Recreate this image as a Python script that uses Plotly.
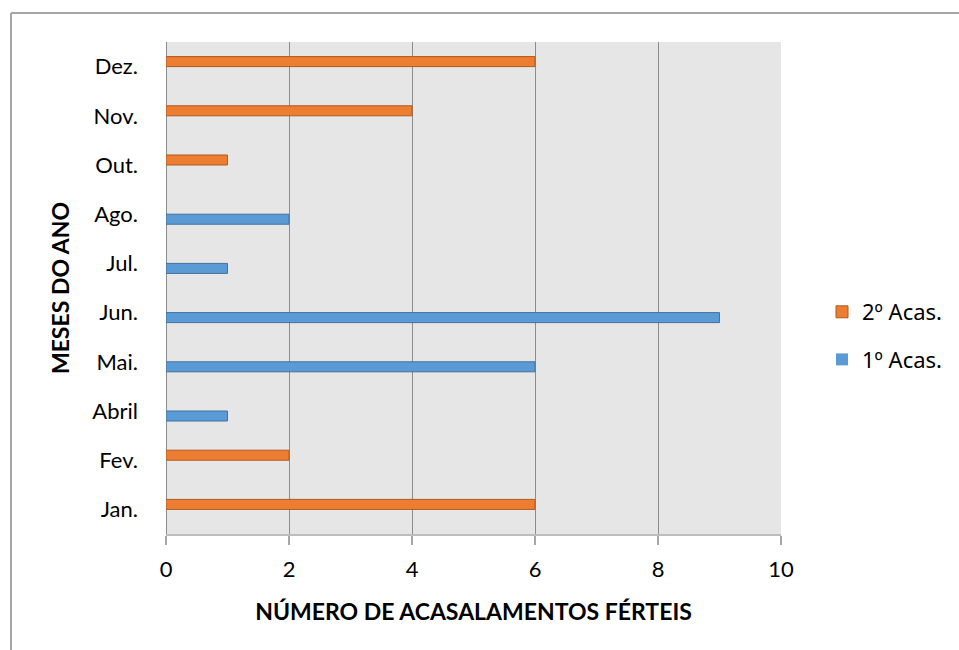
import plotly.graph_objects as go

# Months on the category axis, bottom to top
months = ["Jan.", "Fev.", "Abril", "Mai.", "Jun.", "Jul.", "Ago.", "Out.", "Nov.", "Dez."]
# Fertile matings per month, first and second mating
primeiro_acas = [0, 0, 1, 6, 9, 1, 2, 0, 0, 0]
segundo_acas = [6, 2, 0, 0, 0, 0, 0, 1, 4, 6]
x_ticks = [0, 2, 4, 6, 8, 10]

FONT = "Lato"
W, H = 959, 650
L, R, T, B = 166, 178, 42, 116
pw, ph = W - L - R, H - T - B


def px_x(p):
    return (p - L) / pw


def px_y(p):
    return 1 - (p - T) / ph


def outline(values):
    # no outline on empty slots so zero-length bars stay invisible
    return [1 if v > 0 else 0 for v in values]


fig = go.Figure()
fig.add_trace(go.Bar(
    y=months, x=primeiro_acas, orientation="h", name="1º Acas.",
    legendgroup="a", legendrank=2,
    marker=dict(color="#5B9BD5",
                line=dict(color="#41719C", width=outline(primeiro_acas))),
))
fig.add_trace(go.Bar(
    y=months, x=segundo_acas, orientation="h", name="2º Acas.",
    legendgroup="b", legendrank=1,
    marker=dict(color="#ED7D31",
                line=dict(color="#AE5A21", width=outline(segundo_acas))),
))

fig.update_layout(
    width=W, height=H,
    margin=dict(l=L, r=R, t=T, b=B),
    paper_bgcolor="white",
    plot_bgcolor="#E6E6E6",
    barmode="group",
    bargap=0.593,
    bargroupgap=0,
    font=dict(family=FONT, size=22, color="#000000"),
    showlegend=True,
    legend=dict(
        x=px_x(822), y=px_y(336), xanchor="left", yanchor="middle",
        traceorder="grouped", tracegroupgap=16,
        font=dict(family="Noto Sans", size=22, color="#000000"),
        bgcolor="rgba(0,0,0,0)",
    ),
    xaxis=dict(
        range=[0, 10], tickvals=x_ticks, ticktext=[str(v) for v in x_ticks],
        showgrid=True, gridcolor="#8C8C8C", gridwidth=1,
        zeroline=True, zerolinecolor="#8C8C8C", zerolinewidth=1,
        showline=True, linecolor="#BDBDBD", linewidth=2,
        ticks="outside", ticklen=9, tickcolor="#A6A6A6", tickwidth=1.5,
        ticklabelstandoff=6,
        tickfont=dict(family=FONT, size=22),
        title=dict(text="<b>NÚMERO DE ACASALAMENTOS FÉRTEIS</b>",
                   font=dict(family=FONT, size=23), standoff=22),
        automargin=False,
        fixedrange=True,
    ),
    yaxis=dict(
        categoryorder="array", categoryarray=months,
        showgrid=False, zeroline=False, showline=False,
        ticks="", ticklabelstandoff=27,
        tickfont=dict(family=FONT, size=22),
        title=dict(text="<b>MESES DO ANO</b>",
                   font=dict(family=FONT, size=23), standoff=16),
        automargin=False,
        fixedrange=True,
    ),
    shapes=[
        dict(type="line", xref="paper", yref="paper",
             x0=px_x(11), x1=px_x(960), y0=px_y(13), y1=px_y(13),
             line=dict(color="#A6A6A6", width=2)),
        dict(type="line", xref="paper", yref="paper",
             x0=px_x(11), x1=px_x(11), y0=px_y(13), y1=px_y(651),
             line=dict(color="#A6A6A6", width=2)),
    ],
)

fig.write_html("out.html")
